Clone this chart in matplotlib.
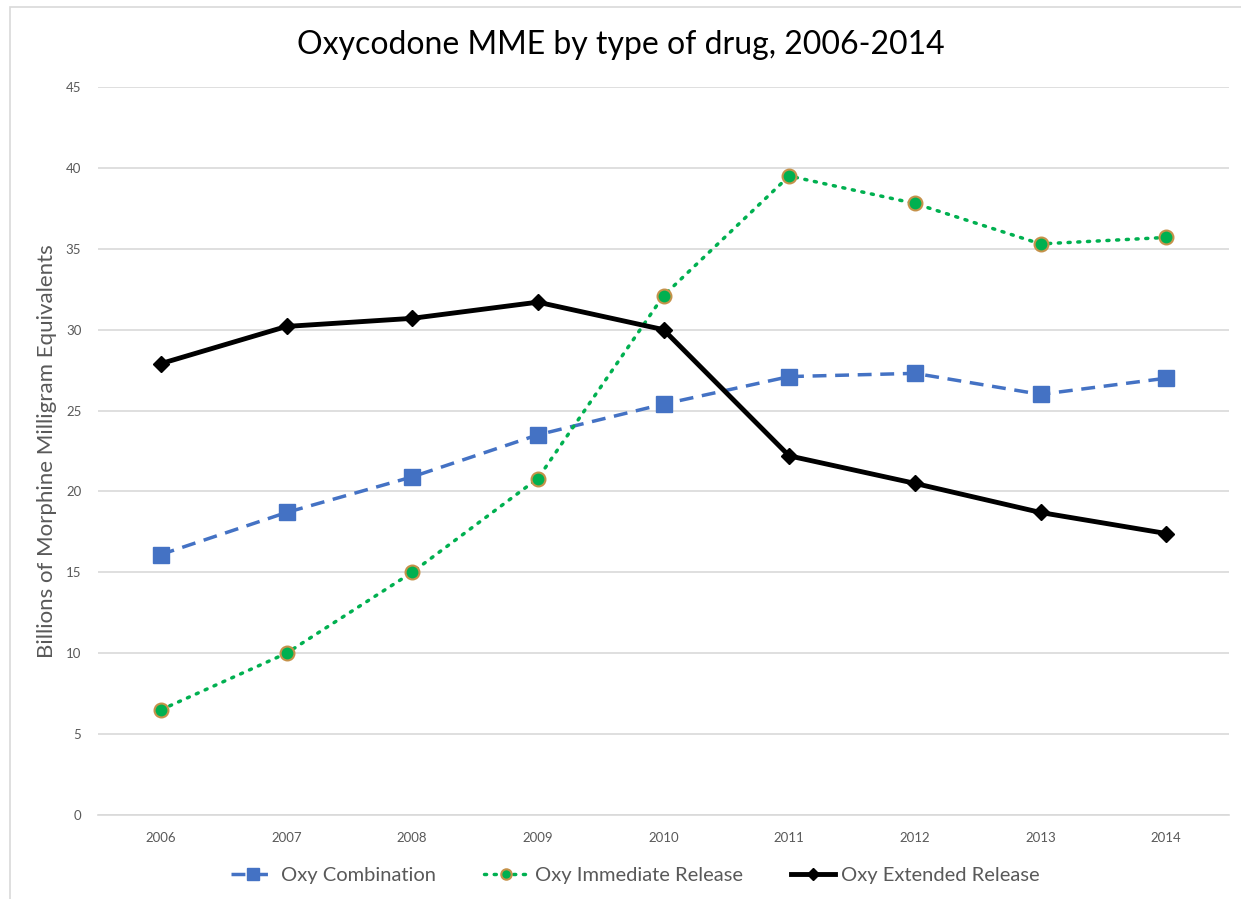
import matplotlib.pyplot as plt
from matplotlib.patches import Rectangle

# 연도
years = ['2006', '2007', '2008', '2009', '2010', '2011', '2012', '2013', '2014']

# 약물 유형별 MME (십억)
oxy_combination = [16.1, 18.7, 20.9, 23.5, 25.4, 27.1, 27.3, 26.0, 27.0]
oxy_immediate = [6.5, 10.0, 15.0, 20.8, 32.1, 39.5, 37.8, 35.3, 35.7]
oxy_extended = [27.9, 30.2, 30.7, 31.7, 30.0, 22.2, 20.5, 18.7, 17.4]

plt.rcParams['font.family'] = ['Lato', 'DejaVu Sans']

fig = plt.figure(figsize=(12.41, 8.99), dpi=100)
ax = fig.add_axes([98 / 1241, 1 - 815 / 899, (1229 - 98) / 1241, (815 - 87) / 899])

# 차트 외곽선
fig.patches.append(Rectangle((10 / 1241, -0.01), 1.0, 1 - 7 / 899 + 0.01,
                             transform=fig.transFigure, fill=False,
                             edgecolor='#d9d9d9', linewidth=1.2))

x = range(len(years))

ax.plot(x, oxy_combination, color='#4472c4', linestyle=(0, (4, 2.5)), linewidth=2.5,
        marker='s', markersize=11, markerfacecolor='#4472c4',
        markeredgecolor='#4472c4', label='Oxy Combination')
ax.plot(x, oxy_immediate, color='#00b050', linestyle=(0, (0.6, 2.2)), linewidth=2.5,
        dash_capstyle='round', marker='o', markersize=10,
        markerfacecolor='#00b050', markeredgecolor='#c5924a', markeredgewidth=1.5,
        label='Oxy Immediate Release')
ax.plot(x, oxy_extended, color='black', linewidth=3.5,
        marker='D', markersize=8.5, markerfacecolor='black', markeredgecolor='black',
        label='Oxy Extended Release')

ax.set_xlim(-0.5, len(years) - 0.5)
ax.set_ylim(0, 45)
ax.set_yticks(range(0, 46, 5))
ax.set_xticks(list(x))
ax.set_xticklabels(years)
ax.tick_params(length=0, labelsize=9.5, labelcolor='#595959', pad=12)

ax.grid(axis='y', color='#d9d9d9', linewidth=1.2)
ax.set_axisbelow(True)
for s in ['top', 'right', 'left']:
    ax.spines[s].set_visible(False)
ax.spines['bottom'].set_color('#d9d9d9')
ax.spines['bottom'].set_linewidth(1.2)

ax.set_ylabel('Billions of Morphine Milligram Equivalents', fontsize=16,
              color='#595959', va='center')
ax.yaxis.set_label_coords(-0.045, 0.5)

fig.text(0.5, 1 - 45 / 899, 'Oxycodone MME by type of drug, 2006-2014',
         ha='center', va='center', fontsize=23, color='black')

leg = ax.legend(loc='center', bbox_to_anchor=(0.475, -0.083), ncol=3,
                frameon=False, fontsize=14.5, handlelength=2.2, handletextpad=0.3,
                columnspacing=2.4, markerscale=0.75)
for t in leg.get_texts():
    t.set_color('#595959')

fig.savefig('out.png', dpi=100)
